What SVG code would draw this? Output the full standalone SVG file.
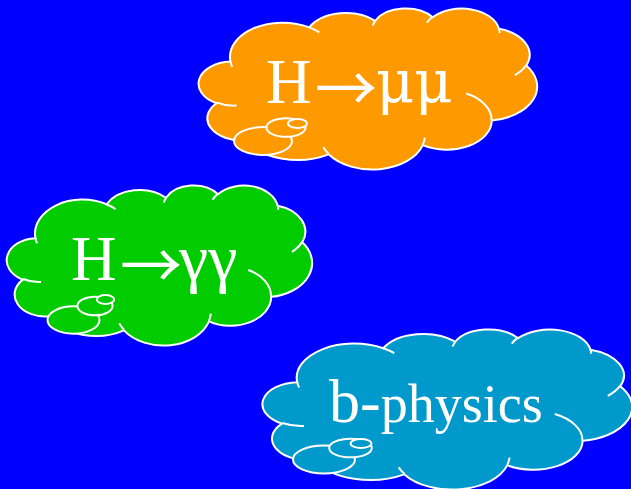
<svg xmlns="http://www.w3.org/2000/svg" xmlns:xlink="http://www.w3.org/1999/xlink" width="631" height="489" viewBox="0 0 631 489">
<style>
.outline{stroke:#ffffff;stroke-width:2}
.crease{fill:none;stroke:#ffffff;stroke-width:2}
.bub{stroke:#ffffff;stroke-width:2}
.lbl{font-family:"Liberation Serif","Times New Roman",serif;fill:#ffffff}
.arr{font-family:"Noto Sans CJK JP","Noto Sans CJK SC","DejaVu Sans",sans-serif}
.gr{font-family:"DejaVu Serif","Liberation Serif",serif}
</style>
<defs>
<path id="cloudShape" vector-effect="non-scaling-stroke" d="M 3900 14370 A 6753 9190 0 0 1 14005 5202 A 5333 7267 0 0 1 22457 3431 A 4365 5945 0 0 1 29834 2479 A 4857 6595 0 0 1 38319 5574 A 5333 7273 0 0 1 41819 15458 A 6775 9220 0 0 1 37405 30201 A 5785 7867 0 0 1 28557 36812 A 6752 9215 0 0 1 16482 39264 A 7720 10543 0 0 1 5807 35471 A 4360 5918 0 0 1 2114 25551 A 4345 5945 0 0 1 3900 14370 Z"/>
<path id="creases" vector-effect="non-scaling-stroke" d="M 4693 26177 A 4345 5945 0 0 1 2160 25380 M 6928 34899 A 4360 5918 0 0 1 5820 35280 M 16478 39090 A 6752 9215 0 0 1 15809 37348 M 28827 34751 A 6752 9215 0 0 1 28560 36660 M 34129 22954 A 5785 7867 0 0 1 37381 30090 M 41798 15354 A 5333 7273 0 0 1 40350 18030 M 38324 5426 A 4857 6595 0 0 1 38401 6690 M 29078 3952 A 4857 6595 0 0 1 29820 2339 M 22141 4720 A 4365 5945 0 0 1 22500 3331 M 14000 5192 A 6753 9190 0 0 1 15300 6540 M 4127 15789 A 6753 9190 0 0 1 3900 14371"/>
</defs>
<rect x="0" y="0" width="631" height="489" fill="#0000ff"/>
<g id="cloud-h-mumu">
  <g transform="translate(200,8) scale(0.0078009,0.0037269)">
    <use xlink:href="#cloudShape" href="#cloudShape" class="outline" fill="#ff9900"/>
    <use xlink:href="#creases" href="#creases" class="crease"/>
  </g>
  <ellipse class="bub" fill="#ff9900" cx="263" cy="141" rx="29" ry="14"/>
  <ellipse class="bub" fill="#ff9900" cx="286" cy="127.5" rx="19.5" ry="9.3"/>
  <ellipse class="bub" fill="#ff9900" cx="297.5" cy="123.5" rx="9.5" ry="4.5"/>
  <text class="lbl" x="266" y="103" font-size="63">H<tspan class="arr" x="315" dy="9" font-size="62">→</tspan><tspan class="gr" x="376" dy="-9" font-size="59">μμ</tspan></text>
</g>
<g id="cloud-h-gammagamma">
  <g transform="translate(8,185) scale(0.0070370,0.0037037)">
    <use xlink:href="#cloudShape" href="#cloudShape" class="outline" fill="#00cc00"/>
    <use xlink:href="#creases" href="#creases" class="crease"/>
  </g>
  <ellipse class="bub" fill="#00cc00" cx="73.5" cy="320" rx="26" ry="13.7"/>
  <ellipse class="bub" fill="#00cc00" cx="95" cy="306" rx="17.6" ry="9.3"/>
  <ellipse class="bub" fill="#00cc00" cx="105.5" cy="299.5" rx="8.6" ry="4.5"/>
  <text class="lbl" x="71" y="280" font-size="63">H<tspan class="arr" x="120" dy="9" font-size="62">→</tspan><tspan x="179" dy="-9" font-size="66">γγ</tspan></text>
</g>
<g id="cloud-b-physics">
  <g transform="translate(264,329) scale(0.0085185,0.0037037)">
    <use xlink:href="#cloudShape" href="#cloudShape" class="outline" fill="#0099cc"/>
    <use xlink:href="#creases" href="#creases" class="crease"/>
  </g>
  <ellipse class="bub" fill="#0099cc" cx="324" cy="459.5" rx="31" ry="14"/>
  <ellipse class="bub" fill="#0099cc" cx="350.5" cy="448" rx="21.3" ry="9.3"/>
  <ellipse class="bub" fill="#0099cc" cx="361" cy="443.5" rx="10.4" ry="4.5"/>
  <text class="lbl" x="329" y="422" font-size="62">b-<tspan font-size="54">physics</tspan></text>
</g>
</svg>
